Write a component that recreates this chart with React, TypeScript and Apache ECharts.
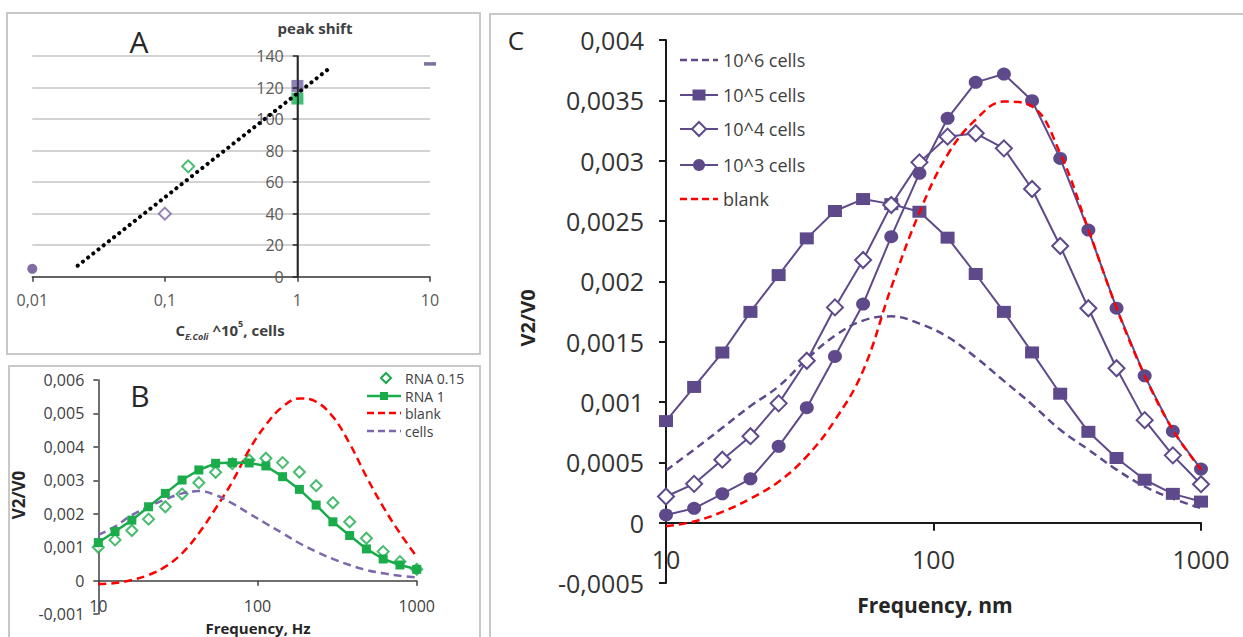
import React, { useEffect, useRef } from "react";
import * as echarts from "echarts";

// ---------- shared frequency grid (Hz / nm) ----------
const freq = [10, 12.74, 16.24, 20.69, 26.37, 33.6, 42.81, 54.55, 69.52, 88.59, 112.9, 143.8, 183.3, 233.6, 297.6, 379.3, 483.3, 615.8, 784.8, 1000];

// ---------- Panel A : peak shift ----------
const aCirclePurple = [[0.01, 5]];
const aDiamondPurple = [[0.1, 40]];
const aDiamondGreen = [[0.15, 70]];
const aSquarePurple = [[1, 121]];
const aSquareGreen = [[1, 113]];
const aDashPurple = [[10, 135]];
const aTrend = [[0.022, 7], [1.7, 131.5]];
const aAxisAtOne = [[1, 0], [1, 140]];

// ---------- Panel B ----------
const bRna015 = [0.001, 0.00122, 0.0015, 0.00184, 0.00221, 0.00259, 0.00293, 0.00324, 0.0035, 0.00361, 0.00366, 0.00353, 0.00325, 0.00284, 0.00233, 0.00176, 0.00127, 0.00087, 0.00057, 0.00034];
const bRna1 = [0.00114, 0.00147, 0.00181, 0.00221, 0.00261, 0.00301, 0.00331, 0.00351, 0.00353, 0.00352, 0.00343, 0.00311, 0.00273, 0.00226, 0.00176, 0.00135, 0.00095, 0.00065, 0.00047, 0.00034];
const bBlank = [-0.0001, -0.00007, 0.00002, 0.00017, 0.00042, 0.00082, 0.00142, 0.00216, 0.00296, 0.00391, 0.00466, 0.0052, 0.00545, 0.00535, 0.0049, 0.0041, 0.00311, 0.00221, 0.00142, 0.00072];
const bCells = [0.00137, 0.00162, 0.00196, 0.00221, 0.00243, 0.00261, 0.00268, 0.00256, 0.00231, 0.00201, 0.00171, 0.00142, 0.00112, 0.00087, 0.00065, 0.00047, 0.00032, 0.00022, 0.00015, 0.0001];

// ---------- Panel C ----------
const c6 = [0.000433, 0.000606, 0.000786, 0.000967, 0.00113, 0.001356, 0.00155, 0.001675, 0.00171, 0.00165, 0.00154, 0.00137, 0.001175, 0.00098, 0.00077, 0.000606, 0.00044, 0.0003, 0.0002, 0.00012];
const c5 = [0.000842, 0.001125, 0.00141, 0.001747, 0.002052, 0.002356, 0.002583, 0.002682, 0.00264, 0.002577, 0.002362, 0.002061, 0.001747, 0.001411, 0.001069, 0.000753, 0.000536, 0.000356, 0.000239, 0.000175];
const c4 = [0.000217, 0.000322, 0.000522, 0.000717, 0.000989, 0.001342, 0.001784, 0.002177, 0.002633, 0.002986, 0.003199, 0.003227, 0.003102, 0.002765, 0.002293, 0.001777, 0.00128, 0.00085, 0.000558, 0.000319];
const c3 = [0.000064, 0.000119, 0.000239, 0.000364, 0.000633, 0.000953, 0.001378, 0.001812, 0.00237, 0.002895, 0.003351, 0.003649, 0.003718, 0.003497, 0.003019, 0.002425, 0.001778, 0.001217, 0.000758, 0.000444];
const cBlank = [-0.00003, 0.00001, 0.00009, 0.0002, 0.00034, 0.00055, 0.00085, 0.00126, 0.00195, 0.00257, 0.00305, 0.00334, 0.00349, 0.00345, 0.00306, 0.00243, 0.00178, 0.00122, 0.00077, 0.00044];

const legendB = ["RNA 0.15", "RNA 1", "blank", "cells"];
const legendC = ["10^6 cells", "10^5 cells", "10^4 cells", "10^3 cells", "blank"];

const FONT = "'Open Sans', sans-serif";
const purple = "#5e4a8a";
const purpleLight = "#7d68ad";
const green = "#1aab4b";
const red = "#ff0000";
const frame = "#c8c8c8";

const fmt = (v: number) => {
  if (Math.abs(v) < 1e-12) return "0";
  return String(Number(v.toPrecision(6))).replace(".", ",");
};

const pairs = (ys: number[]) => freq.map((f, i) => [f, ys[i]]);

function txt(text: string, x: number, y: number, size: number, opts: any = {}) {
  return {
    type: "text",
    x,
    y,
    rotation: opts.rotation || 0,
    z: 10,
    style: {
      text,
      fontSize: size,
      fontFamily: FONT,
      fontWeight: opts.bold ? "bold" : "normal",
      fill: opts.color || "#262626",
      align: opts.align || "center",
      verticalAlign: "middle",
    },
  };
}

function hline(x1: number, x2: number, y: number, color: string, width: number, dash?: number[]) {
  return {
    type: "line",
    z: 10,
    shape: { x1, y1: y, x2, y2: y },
    style: { stroke: color, lineWidth: width, lineDash: dash || null },
  };
}

function diamond(cx: number, cy: number, hw: number, hh: number, color: string) {
  return {
    type: "polygon",
    z: 11,
    shape: { points: [[cx, cy - hh], [cx + hw, cy], [cx, cy + hh], [cx - hw, cy]] },
    style: { fill: "#fff", stroke: color, lineWidth: 2 },
  };
}

export default function App() {
  const ref = useRef<HTMLDivElement>(null);
  useEffect(() => {
    document.body.style.margin = "0";
    if (!ref.current) return;
    const chart = echarts.init(ref.current, null, { renderer: "svg" });

    const g = (left: number, top: number, width: number, height: number) => ({
      left, top, width, height, containLabel: false, outerBoundsMode: "none",
    });
    const hiddenX = (gridIndex: number) => ({ gridIndex, type: "value", show: false, min: 0, max: 1 });
    const logX = (gridIndex: number, min: number, max: number, color: string, w: number, tick: number, size: number, lc: string, margin: number) => ({
      gridIndex, type: "log", logBase: 10, min, max,
      axisLine: { show: true, onZero: false, lineStyle: { color, width: w } },
      axisTick: { show: true, length: tick, lineStyle: { color, width: w } },
      axisLabel: { formatter: fmt, fontSize: size, color: lc, margin, fontFamily: FONT },
      splitLine: { show: false },
    });
    const shownY = (gridIndex: number, min: number, max: number, interval: number, color: string, w: number, tick: number, size: number, lc: string, margin: number) => ({
      gridIndex, type: "value", min, max, interval, position: "left",
      axisLine: { show: true, onZero: false, lineStyle: { color, width: w } },
      axisTick: { show: true, length: tick, lineStyle: { color, width: w } },
      axisLabel: { formatter: fmt, fontSize: size, color: lc, margin, fontFamily: FONT },
      splitLine: { show: false },
    });
    const hiddenY = (gridIndex: number, min: number, max: number) => ({
      gridIndex, type: "value", min, max, show: false, splitLine: { show: false },
    });

    const option: any = {
      animation: false,
      backgroundColor: "#fff",
      textStyle: { fontFamily: FONT },
      grid: [
        g(32.3, 56, 397.7, 220.7), // 0 A plot
        g(297.7, 56, 60, 220.7), // 1 A y-axis at x = 1
        g(98.3, 380, 318.4, 234), // 2 B full y range
        g(98.3, 380, 318.4, 200.7), // 3 B plot (bottom at y = 0)
        g(666, 40, 535, 543), // 4 C full y range
        g(666, 40, 535, 482.7), // 5 C plot (bottom at y = 0)
      ],
      xAxis: [
        logX(0, 0.01, 10, "#404040", 1.5, 5, 16, "#595959", 15),
        hiddenX(1),
        hiddenX(2),
        logX(3, 10, 1000, "#404040", 1.5, 5, 16, "#404040", 17),
        hiddenX(4),
        logX(5, 10, 1000, "#1a1a1a", 2, 8, 25, "#333", 24),
      ],
      yAxis: [
        {
          gridIndex: 0, type: "value", min: 0, max: 140, interval: 20,
          axisLine: { show: false }, axisTick: { show: false }, axisLabel: { show: false },
          splitLine: { show: true, lineStyle: { color: "#c4c4c4", width: 1.5 } },
        },
        { ...shownY(1, 0, 140, 20, "#262626", 1.5, 5, 16, "#595959", 14), z: 6 },
        shownY(2, -0.001, 0.006, 0.001, "#404040", 1.5, 5, 16, "#404040", 14),
        hiddenY(3, 0, 0.006),
        shownY(4, -0.0005, 0.004, 0.0005, "#1a1a1a", 2, 7, 25, "#333", 22),
        hiddenY(5, 0, 0.004),
      ],
      series: [
        // ----- A -----
        { type: "line", xAxisIndex: 0, yAxisIndex: 0, data: aAxisAtOne, symbol: "none", silent: true, z: 1, lineStyle: { color: "#262626", width: 1.5 } },
        { type: "scatter", xAxisIndex: 0, yAxisIndex: 0, data: aCirclePurple, symbol: "circle", symbolSize: 10, clip: false, itemStyle: { color: purple } },
        { type: "scatter", xAxisIndex: 0, yAxisIndex: 0, data: aDiamondPurple, symbol: "diamond", symbolSize: 12, itemStyle: { color: "#fff", borderColor: "#7b62a8", borderWidth: 2 } },
        { type: "scatter", xAxisIndex: 0, yAxisIndex: 0, data: aDiamondGreen, symbol: "diamond", symbolSize: 12, itemStyle: { color: "#fff", borderColor: green, borderWidth: 2 } },
        { type: "scatter", xAxisIndex: 0, yAxisIndex: 0, data: aSquarePurple, symbol: "rect", symbolSize: 12, itemStyle: { color: "#7262a8" } },
        { type: "scatter", xAxisIndex: 0, yAxisIndex: 0, data: aSquareGreen, symbol: "rect", symbolSize: 12, itemStyle: { color: "#12b050" } },
        { type: "scatter", xAxisIndex: 0, yAxisIndex: 0, data: aDashPurple, symbol: "rect", symbolSize: [12, 3.5], clip: false, itemStyle: { color: purple } },
        { type: "line", xAxisIndex: 0, yAxisIndex: 0, data: aTrend, symbol: "none", z: 7, lineStyle: { color: "#000", width: 4, type: [0.1, 6.5], cap: "round" } },
        { type: "scatter", xAxisIndex: 1, yAxisIndex: 1, data: [], silent: true },
        // ----- B -----
        { name: "blank", type: "line", xAxisIndex: 3, yAxisIndex: 3, data: pairs(bBlank), symbol: "none", smooth: 0.4, clip: false, lineStyle: { color: red, width: 2.5, type: [8, 5] } },
        { name: "cells", type: "line", xAxisIndex: 3, yAxisIndex: 3, data: pairs(bCells), symbol: "none", smooth: 0.4, clip: false, lineStyle: { color: purpleLight, width: 2.5, type: [8, 5] } },
        { name: "RNA 1", type: "line", xAxisIndex: 3, yAxisIndex: 3, data: pairs(bRna1), symbol: "rect", symbolSize: 9, clip: false, lineStyle: { color: green, width: 2.5 }, itemStyle: { color: green } },
        { name: "RNA 0.15", type: "scatter", xAxisIndex: 3, yAxisIndex: 3, data: pairs(bRna015), symbol: "diamond", symbolSize: 11, clip: false, itemStyle: { color: "#fff", borderColor: green, borderWidth: 2 } },
        // ----- C -----
        { name: "10^6 cells", type: "line", xAxisIndex: 5, yAxisIndex: 5, data: pairs(c6), symbol: "none", smooth: 0.4, clip: false, lineStyle: { color: purple, width: 2.5, type: [8, 5] } },
        { name: "10^5 cells", type: "line", xAxisIndex: 5, yAxisIndex: 5, data: pairs(c5), symbol: "rect", symbolSize: [14, 12], clip: false, lineStyle: { color: purple, width: 2 }, itemStyle: { color: purple } },
        { name: "10^4 cells", type: "line", xAxisIndex: 5, yAxisIndex: 5, data: pairs(c4), symbol: "diamond", symbolSize: [16, 16], clip: false, lineStyle: { color: purple, width: 2 }, itemStyle: { color: "#fff", borderColor: purple, borderWidth: 2 } },
        { name: "10^3 cells", type: "line", xAxisIndex: 5, yAxisIndex: 5, data: pairs(c3), symbol: "circle", symbolSize: [14, 13], clip: false, lineStyle: { color: purple, width: 2 }, itemStyle: { color: purple } },
        { name: "blank", type: "line", xAxisIndex: 5, yAxisIndex: 5, data: pairs(cBlank), symbol: "none", smooth: 0.4, clip: false, z: 4, lineStyle: { color: red, width: 2.5, type: [8, 5] } },
      ],
      graphic: [
        // frames
        { type: "rect", z: 1, shape: { x: 7, y: 13, width: 473, height: 341 }, style: { fill: "none", stroke: frame, lineWidth: 2 } },
        { type: "rect", z: 1, shape: { x: 9, y: 366, width: 471, height: 320 }, style: { fill: "none", stroke: frame, lineWidth: 2 } },
        { type: "rect", z: 1, shape: { x: 490, y: 14, width: 800, height: 700 }, style: { fill: "none", stroke: frame, lineWidth: 2 } },
        // panel letters
        txt("A", 139, 41, 30),
        txt("B", 140, 395, 30),
        txt("C", 516, 40, 26),
        // A titles
        txt("peak shift", 315, 28, 15, { bold: true, color: "#404040" }),
        {
          type: "text", x: 230, y: 330, z: 10,
          style: {
            text: "{b|C}{sub|E.Coli}{b| ^10}{sup|5}{b|, cells}",
            align: "center", verticalAlign: "middle",
            rich: {
              b: { fontSize: 15, fontWeight: "bold", fontFamily: FONT, fill: "#404040", lineHeight: 22 },
              sub: { fontSize: 9, fontStyle: "italic", fontWeight: "bold", fontFamily: FONT, fill: "#404040", lineHeight: 9, verticalAlign: "bottom" },
              sup: { fontSize: 9, fontWeight: "bold", fontFamily: FONT, fill: "#404040", lineHeight: 9, verticalAlign: "top" },
            },
          },
        },
        // B titles
        txt("V2/V0", 18, 495, 17, { bold: true, rotation: Math.PI / 2 }),
        txt("Frequency, Hz", 258, 628, 15, { bold: true }),
        // C titles
        txt("V2/V0", 527, 318, 20, { bold: true, rotation: Math.PI / 2 }),
        txt("Frequency, nm", 935, 605, 21, { bold: true }),
        // B legend
        diamond(386, 378, 5, 5, green),
        txt(legendB[0], 405, 378, 14, { align: "left", color: "#404040" }),
        hline(367, 401, 396, green, 2.5),
        { type: "rect", z: 11, shape: { x: 380, y: 392, width: 8, height: 8 }, style: { fill: green } },
        txt(legendB[1], 405, 396, 14, { align: "left", color: "#404040" }),
        hline(367, 401, 413, red, 2.5, [7, 4]),
        txt(legendB[2], 405, 413, 14, { align: "left", color: "#404040" }),
        hline(367, 401, 431, purpleLight, 2.5, [7, 4]),
        txt(legendB[3], 405, 431, 14, { align: "left", color: "#404040" }),
        // C legend
        hline(680, 718, 60, purple, 2.5, [7, 4]),
        txt(legendC[0], 723, 60, 18, { align: "left", color: "#404040" }),
        hline(680, 718, 95, purple, 2),
        { type: "rect", z: 11, shape: { x: 692.5, y: 89.5, width: 13, height: 11 }, style: { fill: purple } },
        txt(legendC[1], 723, 95, 18, { align: "left", color: "#404040" }),
        hline(680, 718, 129, purple, 2),
        diamond(699, 129, 7, 7, purple),
        txt(legendC[2], 723, 129, 18, { align: "left", color: "#404040" }),
        hline(680, 718, 165, purple, 2),
        { type: "circle", z: 11, shape: { cx: 699, cy: 165, r: 6 }, style: { fill: purple } },
        txt(legendC[3], 723, 165, 18, { align: "left", color: "#404040" }),
        hline(680, 718, 199, red, 2.5, [7, 4]),
        txt(legendC[4], 723, 199, 18, { align: "left", color: "#404040" }),
      ],
    };

    chart.setOption(option);
    return () => chart.dispose();
  }, []);

  return <div ref={ref} style={{ width: 1243, height: 637 }} />;
}
